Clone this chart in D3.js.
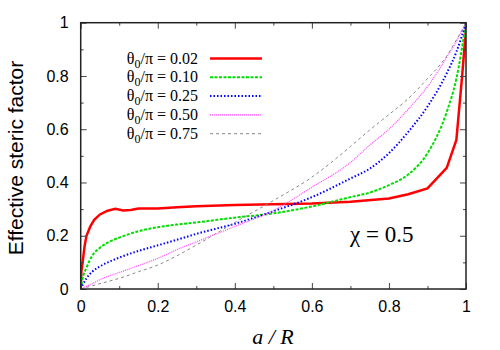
<!DOCTYPE html>
<html><head><meta charset="utf-8">
<script src="https://cdn.jsdelivr.net/npm/d3@7"></script>
<style>body{margin:0;background:#fff}svg{display:block}
.serif{font-family:"Liberation Serif","DejaVu Serif","Times New Roman",Times,serif}
.sans{font-family:"Liberation Sans",Arial,Helvetica,sans-serif}
</style>
</head><body>
<svg id="c" width="500" height="350"></svg>
<script>
// Data
const redX = [0, 0.002, 0.005, 0.01, 0.015, 0.025, 0.035, 0.05, 0.07, 0.09, 0.11, 0.13, 0.15, 0.2, 0.25, 0.3, 0.4, 0.5, 0.6, 0.7, 0.8, 0.85, 0.9, 0.95, 0.975, 0.99, 1];
const redY = [0, 0.07, 0.10, 0.16, 0.20, 0.235, 0.26, 0.28, 0.294, 0.301, 0.295, 0.297, 0.302, 0.302, 0.307, 0.311, 0.315, 0.318, 0.321, 0.328, 0.34, 0.356, 0.378, 0.455, 0.56, 0.80, 0.98];
const gridX = [0, 0.005, 0.015, 0.03, 0.05, 0.075, 0.1, 0.15, 0.2, 0.25, 0.3, 0.4, 0.5, 0.6, 0.7, 0.75, 0.8, 0.85, 0.9, 0.95, 0.975, 1];
const greenY = [0, 0.04, 0.08, 0.125, 0.155, 0.178, 0.193, 0.217, 0.232, 0.242, 0.25, 0.268, 0.284, 0.31, 0.345, 0.362, 0.39, 0.43, 0.51, 0.665, 0.79, 1];
const blueY  = [0, 0.015, 0.04, 0.065, 0.085, 0.103, 0.118, 0.143, 0.164, 0.185, 0.207, 0.245, 0.292, 0.345, 0.415, 0.452, 0.51, 0.59, 0.685, 0.81, 0.89, 1];
const pinkY  = [0, 0.003, 0.01, 0.02, 0.035, 0.05, 0.062, 0.088, 0.115, 0.148, 0.177, 0.235, 0.295, 0.382, 0.475, 0.54, 0.6, 0.675, 0.76, 0.87, 0.93, 1];
const grayY  = [0, 0.002, 0.006, 0.012, 0.02, 0.03, 0.04, 0.065, 0.09, 0.125, 0.165, 0.25, 0.332, 0.42, 0.535, 0.597, 0.655, 0.715, 0.79, 0.875, 0.935, 1];
const labels = ["0.02", "0.10", "0.25", "0.50", "0.75"];
const xTicks = [0, 0.2, 0.4, 0.6, 0.8, 1];
const yTicks = [0, 0.2, 0.4, 0.6, 0.8, 1];

const series = [
  {x: redX, y: redY, color: "#ff0000", w: 2.5, dash: null, curve: d3.curveLinear},
  {x: gridX, y: greenY, color: "#00dd00", w: 2, dash: "3,1.5", curve: d3.curveMonotoneX},
  {x: gridX, y: blueY, color: "#0000ff", w: 2, dash: "1.5,2", curve: d3.curveMonotoneX},
  {x: gridX, y: pinkY, color: "#ff44ff", w: 1.2, dash: "1,1", curve: d3.curveMonotoneX},
  {x: gridX, y: grayY, color: "#888888", w: 1, dash: "3,3", curve: d3.curveMonotoneX}
];

const L = 80.7, R = 466, T = 22.7, B = 289;
const x = d3.scaleLinear().domain([0, 1]).range([L, R]);
const y = d3.scaleLinear().domain([0, 1]).range([B, T]);
const svg = d3.select("#c");

svg.append("clipPath").attr("id", "cl").append("rect")
  .attr("x", L).attr("y", T - 2).attr("width", R - L).attr("height", B - T + 2);

// series
series.forEach(s => {
  const pts = s.x.map((v, i) => [v, s.y[i]]);
  svg.append("path").attr("clip-path", "url(#cl)")
    .attr("d", d3.line().x(d => x(d[0])).y(d => y(d[1])).curve(s.curve)(pts))
    .attr("fill", "none").attr("stroke", s.color).attr("stroke-width", s.w)
    .attr("stroke-dasharray", s.dash);
});

// axes
const minor = d3.range(0.1, 1, 0.2);
const ax = (g, axis) => { g.call(axis); g.select(".domain").remove(); g.selectAll("line").attr("stroke", "#444"); };
const fnt = g => g.attr("font-family", null).selectAll("text").attr("class", "sans").attr("font-size", 16).attr("fill", "#000");
const fmt = d => String(d);

svg.append("g").attr("transform", `translate(0,${B})`)
  .call(g => { ax(g, d3.axisBottom(x).tickValues(xTicks).tickSize(-6).tickPadding(12).tickFormat(fmt)); fnt(g); });
svg.append("g").attr("transform", `translate(0,${B})`)
  .call(g => { ax(g, d3.axisBottom(x).tickValues(minor).tickSize(-3).tickFormat("")); });
svg.append("g").attr("transform", `translate(0,${T})`)
  .call(g => { ax(g, d3.axisTop(x).tickValues(xTicks).tickSize(-6).tickFormat("")); });
svg.append("g").attr("transform", `translate(0,${T})`)
  .call(g => { ax(g, d3.axisTop(x).tickValues(minor).tickSize(-3).tickFormat("")); });
svg.append("g").attr("transform", `translate(${L},0)`)
  .call(g => { ax(g, d3.axisLeft(y).tickValues(yTicks).tickSize(-6).tickPadding(12).tickFormat(fmt)); fnt(g); });
svg.append("g").attr("transform", `translate(${L},0)`)
  .call(g => { ax(g, d3.axisLeft(y).tickValues(minor).tickSize(-3).tickFormat("")); });
svg.append("g").attr("transform", `translate(${R},0)`)
  .call(g => { ax(g, d3.axisRight(y).tickValues(yTicks).tickSize(-6).tickFormat("")); });
svg.append("g").attr("transform", `translate(${R},0)`)
  .call(g => { ax(g, d3.axisRight(y).tickValues(minor).tickSize(-3).tickFormat("")); });

svg.append("rect").attr("x", L).attr("y", T).attr("width", R - L).attr("height", B - T)
  .attr("fill", "none").attr("stroke", "#222").attr("stroke-width", 1.5);

// legend
series.forEach((s, i) => {
  const ly = 58.5 + i * 18.8;
  const t = svg.append("text").attr("class", "serif").attr("x", 198).attr("y", ly + 5).attr("text-anchor", "end")
    .attr("font-size", 16).attr("fill", "#000");
  t.append("tspan").text("θ");
  t.append("tspan").attr("font-size", 12).attr("dy", 4).text("0");
  t.append("tspan").attr("dy", -4).text("/π = " + labels[i]);
  svg.append("line").attr("x1", 210).attr("x2", 262).attr("y1", ly).attr("y2", ly)
    .attr("stroke", s.color).attr("stroke-width", s.w).attr("stroke-dasharray", s.dash);
});

// annotation
svg.append("text").attr("class", "serif").attr("x", 350).attr("y", 242).attr("font-size", 23)
  .text("χ = 0.5");

// axis titles
svg.append("text").attr("class", "serif").attr("x", 273).attr("y", 344).attr("text-anchor", "middle")
  .attr("font-size", 22).attr("font-style", "italic").text("a / R");
svg.append("text").attr("class", "sans").attr("transform", "translate(23,158) rotate(-90)").attr("text-anchor", "middle")
  .attr("font-size", 21).text("Effective steric factor");
</script>
</body></html>
